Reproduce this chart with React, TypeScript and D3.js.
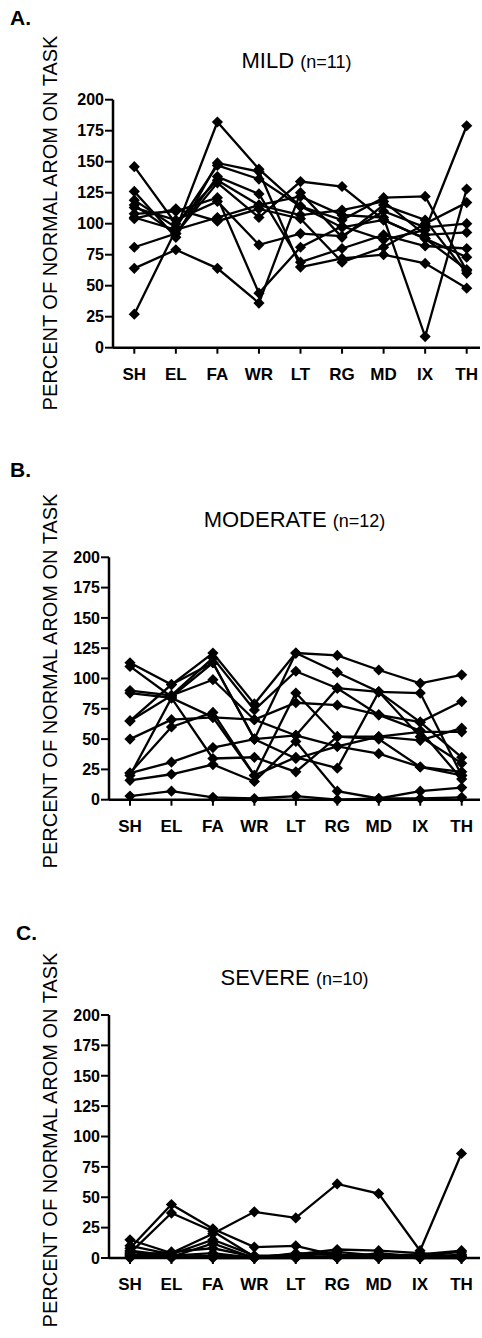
import React from 'react';
import * as d3 from 'd3';

// joint categories on the x axis
const categories = ['SH', 'EL', 'FA', 'WR', 'LT', 'RG', 'MD', 'IX', 'TH'];
const yTicks = [0, 25, 50, 75, 100, 125, 150, 175, 200];

// percent of normal AROM, one row per subject
const mildSeries = [
    [146, 100, 135, 115, 122, 107, 105, 9, 128],
    [126, 89, 149, 142, 65, 72, 75, 68, 48],
    [119, 97, 147, 136, 114, 103, 121, 122, 62],
    [115, 92, 133, 105, 134, 130, 103, 88, 73],
    [113, 103, 118, 83, 92, 90, 110, 97, 100],
    [108, 110, 121, 44, 81, 98, 87, 95, 179],
    [105, 95, 105, 115, 107, 111, 118, 91, 93],
    [104, 112, 102, 112, 104, 69, 81, 100, 117],
    [81, 92, 138, 124, 69, 80, 91, 82, 80],
    [64, 79, 64, 36, 125, 89, 115, 103, 60],
    [27, 95, 182, 144, 114, 97, 103, 88, 63],
];

const moderateSeries = [
    [113, 95, 121, 79, 121, 119, 107, 96, 103],
    [110, 85, 113, 50, 121, 105, 89, 88, 20],
    [90, 86, 117, 74, 106, 92, 70, 57, 17],
    [88, 84, 68, 20, 88, 52, 52, 49, 59],
    [65, 86, 99, 66, 80, 78, 70, 64, 35],
    [65, 95, 113, 50, 53, 92, 89, 52, 30],
    [50, 66, 68, 66, 53, 44, 38, 27, 23],
    [22, 60, 72, 20, 35, 26, 89, 64, 81],
    [22, 31, 43, 50, 34, 44, 52, 56, 56],
    [20, 84, 34, 35, 23, 52, 50, 27, 20],
    [16, 21, 29, 15, 48, 7, 1, 7, 10],
    [3, 7, 2, 1, 3, 0, 1, 1, 2],
];

const severeSeries = [
    [15, 4, 20, 38, 33, 61, 53, 6, 86],
    [8, 44, 24, 9, 10, 2, 3, 2, 5],
    [4, 37, 22, 1, 3, 7, 6, 4, 1],
    [10, 3, 15, 2, 2, 1, 2, 3, 6],
    [2, 5, 8, 1, 1, 0, 4, 1, 2],
    [6, 2, 4, 0, 4, 3, 1, 0, 0],
    [1, 1, 2, 1, 0, 1, 0, 2, 1],
    [3, 0, 1, 0, 1, 0, 1, 0, 3],
    [0, 2, 0, 0, 0, 2, 0, 1, 0],
    [5, 1, 12, 0, 2, 5, 2, 1, 1],
];

const panels = [
    {letter: 'A.', name: 'MILD', n: 11, series: mildSeries,
     axisX: 113, y0: 347.7, y200: 99.7, xFirst: 134.3, xLast: 466.7, letterX: 10, letterY: 25, titleY: 68, labelY: 223},
    {letter: 'B.', name: 'MODERATE', n: 12, series: moderateSeries,
     axisX: 109, y0: 799.7, y200: 557.3, xFirst: 130, xLast: 461.7, letterX: 10, letterY: 477, titleY: 527, labelY: 681},
    {letter: 'C.', name: 'SEVERE', n: 10, series: severeSeries,
     axisX: 109, y0: 1258, y200: 1015, xFirst: 130, xLast: 461.5, letterX: 16, letterY: 940, titleY: 985, labelY: 1140},
];

const font = '"Liberation Sans", Arial, sans-serif';
const diamond = d3.symbol().type(d3.symbolDiamond2).size(80)();

function Panel({p}) {
    const x = d3.scalePoint().domain(categories).range([p.xFirst, p.xLast]);
    const y = d3.scaleLinear().domain([0, 200]).range([p.y0, p.y200]);
    const line = d3.line().x((d, i) => x(categories[i])).y(d => y(d));
    const axisEnd = 480;
    const midX = (p.axisX + axisEnd) / 2;

    return (
        <g>
            <text x={p.letterX} y={p.letterY} fontFamily={font} fontWeight="bold" fontSize={21}>{p.letter}</text>
            <text x={midX} y={p.titleY} textAnchor="middle" fontFamily={font}>
                <tspan fontSize={22}>{p.name} </tspan>
                <tspan fontSize={18}>(n={p.n})</tspan>
            </text>
            <text transform={`translate(57,${p.labelY}) rotate(-90)`} textAnchor="middle"
                  fontFamily={font} fontSize={20}>PERCENT OF NORMAL AROM ON TASK</text>

            {/* y axis */}
            <line x1={p.axisX} x2={p.axisX} y1={y(200)} y2={y(0)} stroke="black" strokeWidth={2.5}/>
            {yTicks.map(t => (
                <g key={t}>
                    <line x1={p.axisX - 8} x2={p.axisX} y1={y(t)} y2={y(t)} stroke="black" strokeWidth={2}/>
                    <text x={p.axisX - 9} y={y(t)} dy="0.36em" textAnchor="end"
                          fontFamily={font} fontWeight="bold" fontSize={16}>{t}</text>
                </g>
            ))}

            {/* x axis */}
            <line x1={p.axisX} x2={axisEnd} y1={y(0)} y2={y(0)} stroke="black" strokeWidth={2.5}/>
            {categories.map(c => (
                <g key={c}>
                    <line x1={x(c)} x2={x(c)} y1={y(0)} y2={y(0) + 6} stroke="black" strokeWidth={2}/>
                    <text x={x(c)} y={y(0) + 32} textAnchor="middle" fontFamily={font}
                          fontWeight="bold" fontSize={17}>{c}</text>
                </g>
            ))}

            {p.series.map((s, i) => (
                <g key={i}>
                    <path d={line(s)} fill="none" stroke="black" strokeWidth={2.3}/>
                    {s.map((v, j) => (
                        <path key={j} d={diamond} fill="black"
                              transform={`translate(${x(categories[j])},${y(v)})`}/>
                    ))}
                </g>
            ))}
        </g>
    );
}

export default function App() {
    return (
        <svg width={482} height={1338} style={{position: 'absolute', left: 0, top: 0, background: 'white'}}>
            <rect width={482} height={1338} fill="white"/>
            {panels.map(p => <Panel key={p.letter} p={p}/>)}
        </svg>
    );
}
